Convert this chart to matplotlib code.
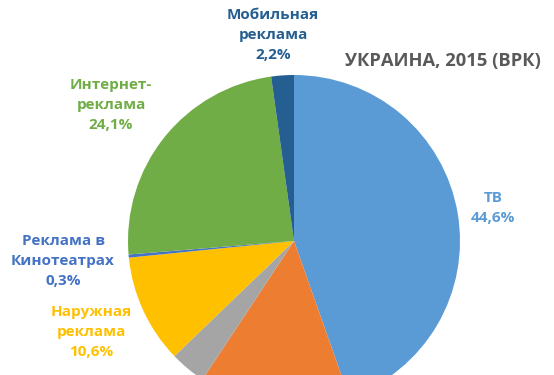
import matplotlib
matplotlib.use("Agg")
import matplotlib.pyplot as plt

categories = ["ТВ", "Пресса", "Радио", "Наружная\nреклама", "Реклама в\nКинотеатрах",
              "Интернет-\nреклама", "Мобильная\nреклама"]
values = [44.6, 14.7, 3.5, 10.6, 0.3, 24.1, 2.2]
colors = ["#5B9BD5", "#ED7D31", "#A5A5A5", "#FFC000", "#4472C4", "#70AD47", "#255E91"]
title = "УКРАИНА, 2015 (ВРК)"

W, H = 554, 375
fig = plt.figure(figsize=(W / 100, H / 100), dpi=100)
ax = fig.add_axes([0, 0, 1, 1])
ax.set_xlim(0, W)
ax.set_ylim(H, 0)
ax.axis("off")

ax2 = fig.add_axes([0, 0, 1, 1])
ax2.pie(values, colors=colors, startangle=90, counterclock=False,
        center=(294, H - 241), radius=166, frame=True,
        wedgeprops=dict(linewidth=0))
ax2.set_xlim(0, W)
ax2.set_ylim(0, H)
ax2.set_aspect("equal")
ax2.axis("off")

font = "Open Sans"
fs = 11

def lab(x, y, idx):
    txt = categories[idx] + "\n" + f"{values[idx]:.1f}".replace(".", ",") + "%"
    ax.text(x, y, txt, ha="center", va="center", color=colors[idx],
            fontsize=fs, fontweight="bold", family=font, linespacing=1.55)

lab(493, 208, 0)
lab(91, 332, 3)
lab(63, 261, 4)
lab(111, 105, 5)
lab(273, 35, 6)

ax.text(443, 61, title, ha="center", va="center", color="#595959",
        fontsize=13.2, fontweight="bold", family=font)

fig.savefig("out.png", dpi=100)
